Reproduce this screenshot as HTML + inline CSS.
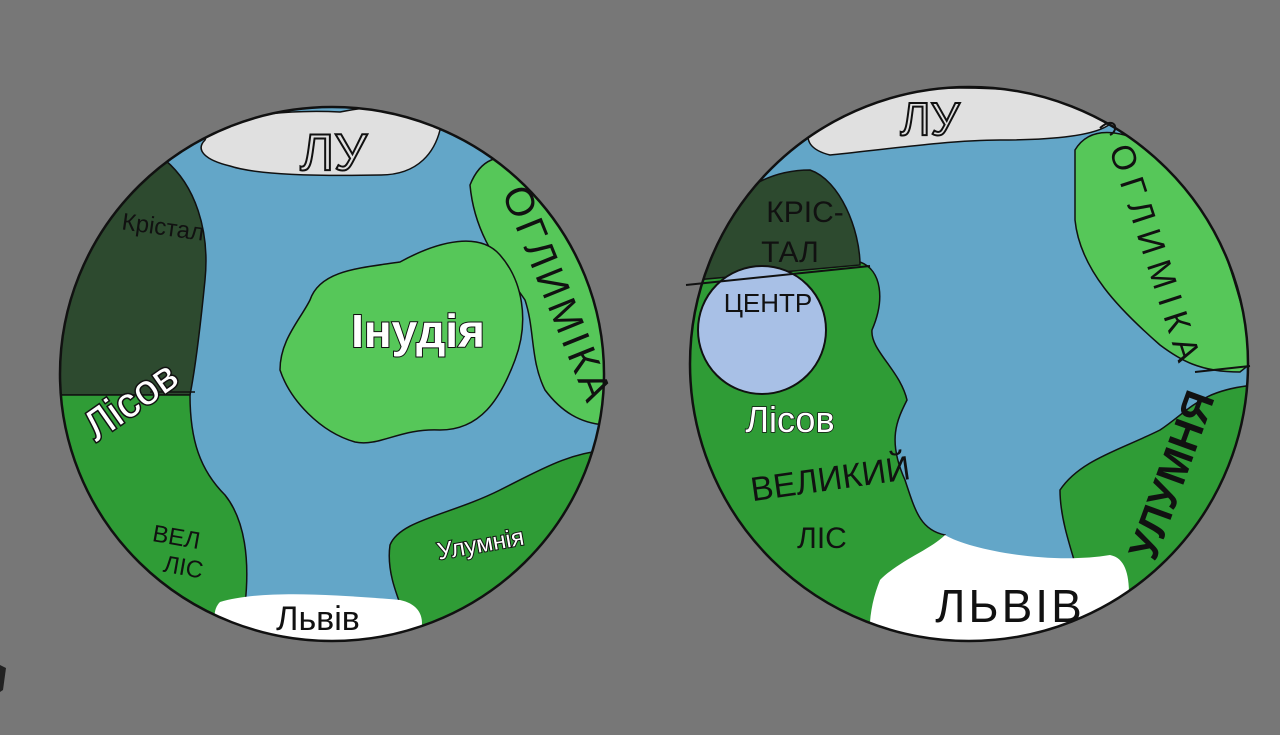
<!DOCTYPE html>
<html><head><meta charset="utf-8"><style>
html,body{margin:0;padding:0;background:#777777;width:1280px;height:735px;overflow:hidden}
svg{display:block}
.hw{font-family:"Liberation Sans","DejaVu Sans",sans-serif}
</style></head><body>
<svg width="1280" height="735" viewBox="0 0 1280 735">
<defs>
<clipPath id="c1"><ellipse cx="332" cy="374" rx="272" ry="267"/></clipPath>
<clipPath id="c2"><ellipse cx="969" cy="364" rx="279" ry="277"/></clipPath>
</defs>
<rect width="1280" height="735" fill="#777777"/>
<path d="M0,665 L6,668 L3,690 L0,692Z" fill="#222"/>

<g>
<g clip-path="url(#c1)">
<rect x="50" y="100" width="570" height="550" fill="#63a6c8"/>
<path d="M40,140 L165,160 C195,185 210,230 205,280 C200,330 195,370 190,395 L40,395 Z" fill="#2d4a2f" stroke="#111" stroke-width="1.5"/>
<path d="M40,395 L190,395 C190,440 200,470 225,495 C245,520 250,560 245,605 L240,660 L40,660 Z" fill="#2f9c36" stroke="#111" stroke-width="1.5"/>
<path d="M390,545 C400,520 450,515 500,490 C540,470 570,452 610,450 L610,660 L420,660 C405,610 385,580 390,545 Z" fill="#2f9c36" stroke="#111" stroke-width="1.5"/>
<path d="M470,185 C480,160 500,150 520,165 C560,190 580,240 600,280 L610,425 C580,425 560,410 545,390 C530,360 535,330 525,300 C505,270 475,240 470,185 Z" fill="#56c759" stroke="#111" stroke-width="1.5"/>
<path d="M310,300 C320,270 360,268 400,262 C440,240 480,232 500,255 C522,280 530,320 515,360 C500,400 480,430 440,430 C400,428 380,447 355,442 C320,432 290,400 280,370 C280,340 300,320 310,300 Z" fill="#56c759" stroke="#111" stroke-width="1.5"/>
<path d="M205,140 C215,112 300,110 340,112 C400,100 445,108 440,130 C435,150 420,175 380,175 C330,176 260,176 230,166 C205,160 195,150 205,140 Z" fill="#e0e0e0" stroke="#111" stroke-width="1.5"/>
<path d="M220,602 C260,590 330,594 400,600 C428,606 426,630 412,650 L230,650 C214,632 210,612 220,602 Z" fill="#ffffff"/>
</g>
<ellipse cx="332" cy="374" rx="272" ry="267" fill="none" stroke="#111" stroke-width="2.5"/>
<line x1="150" y1="392" x2="195" y2="392" stroke="#111" stroke-width="1.5"/>
<text class="hw" x="300" y="170" font-size="52" fill="none" stroke="#111" stroke-width="2">ЛУ</text>
<text class="hw" x="162" y="235" font-size="24" fill="#111" transform="rotate(8 162 235)" text-anchor="middle">Крістал</text>
<text class="hw" x="418" y="347" font-size="46" font-weight="bold" fill="#fff" stroke="#111" stroke-width="2" paint-order="stroke" text-anchor="middle">Інудія</text>
<text class="hw" x="130" y="415" font-size="42" fill="#fff" stroke="#111" stroke-width="3" paint-order="stroke" text-anchor="middle" transform="rotate(-35 130 400)">Лісов</text>
<text class="hw" x="545" y="300" font-size="40" fill="#111" text-anchor="middle" transform="rotate(68 545 300)" letter-spacing="4">ОГЛИМІКА</text>
<text class="hw" x="175" y="545" font-size="24" fill="#111" text-anchor="middle" transform="rotate(10 175 545)">ВЕЛ</text>
<text class="hw" x="182" y="575" font-size="24" fill="#111" text-anchor="middle" transform="rotate(10 182 575)">ЛІС</text>
<text class="hw" x="482" y="552" font-size="24" fill="#fff" stroke="#111" stroke-width="2" paint-order="stroke" text-anchor="middle" transform="rotate(-10 482 552)">Улумнія</text>
<text class="hw" x="318" y="630" font-size="34" fill="#111" text-anchor="middle">Львів</text>
</g>

<g>
<g clip-path="url(#c2)">
<rect x="680" y="80" width="580" height="570" fill="#63a6c8"/>
<path d="M1075,150 C1090,125 1120,130 1150,145 C1200,170 1230,250 1255,360 L1240,372 C1200,372 1180,360 1160,345 C1120,310 1080,270 1075,220 Z" fill="#56c759" stroke="#111" stroke-width="1.5"/>
<path d="M1060,490 C1080,460 1120,450 1160,430 C1190,410 1200,390 1255,385 L1255,650 L1100,650 C1080,570 1060,530 1060,490 Z" fill="#2f9c36" stroke="#111" stroke-width="1.5"/>
<path d="M680,270 L860,262 C882,270 885,300 872,330 C870,350 900,370 907,400 C897,420 887,440 905,480 C915,510 920,530 945,535 L900,650 L680,650 Z" fill="#2f9c36" stroke="#111" stroke-width="1.5"/>
<path d="M695,255 C720,200 760,170 810,170 C840,180 860,230 860,265 L695,280 Z" fill="#2d4a2f" stroke="#111" stroke-width="1.5"/>
<path d="M810,130 C820,100 880,88 960,88 C1040,88 1100,100 1112,122 C1100,136 1050,140 1000,140 C950,140 880,150 830,155 C810,150 805,140 810,130 Z" fill="#e0e0e0" stroke="#111" stroke-width="1.5"/>
<path d="M880,580 C900,560 930,550 945,535 C970,550 1050,565 1110,555 C1135,560 1130,600 1125,650 L870,650 C868,620 872,600 880,580 Z" fill="#ffffff"/>
</g>
<ellipse cx="969" cy="364" rx="279" ry="277" fill="none" stroke="#111" stroke-width="2.5"/>
<circle cx="762" cy="330" r="64" fill="#a8c0e6" stroke="#111" stroke-width="2"/>
<line x1="686" y1="285" x2="870" y2="266" stroke="#111" stroke-width="2"/>
<line x1="1195" y1="372" x2="1250" y2="366" stroke="#111" stroke-width="2"/>
<path d="M1100,128 C1115,115 1120,130 1110,135" fill="none" stroke="#111" stroke-width="2"/>
<text class="hw" x="930" y="135" font-size="46" fill="none" stroke="#111" stroke-width="2" text-anchor="middle">ЛУ</text>
<text class="hw" x="805" y="222" font-size="30" fill="#111" text-anchor="middle">КРІС-</text>
<text class="hw" x="790" y="262" font-size="30" fill="#111" text-anchor="middle">ТАЛ</text>
<text class="hw" x="768" y="312" font-size="26" fill="#111" text-anchor="middle">ЦЕНТР</text>
<text class="hw" x="790" y="432" font-size="36" fill="#fff" stroke="#111" stroke-width="1.5" paint-order="stroke" text-anchor="middle">Лісов</text>
<text class="hw" x="832" y="490" font-size="34" fill="#111" text-anchor="middle" transform="rotate(-8 832 490)">ВЕЛИКИЙ</text>
<text class="hw" x="822" y="548" font-size="30" fill="#111" text-anchor="middle">ЛІС</text>
<text class="hw" x="1145" y="260" font-size="34" fill="#111" text-anchor="middle" transform="rotate(72 1145 260)" letter-spacing="8">ОГЛИМІКА</text>
<text class="hw" x="1185" y="480" font-size="42" font-weight="bold" fill="#111" text-anchor="middle" transform="rotate(-70 1185 480)">УЛУМНЯ</text>
<text class="hw" x="1010" y="622" font-size="46" fill="#111" text-anchor="middle" letter-spacing="3">ЛЬВІВ</text>
</g>
</svg>
</body></html>
